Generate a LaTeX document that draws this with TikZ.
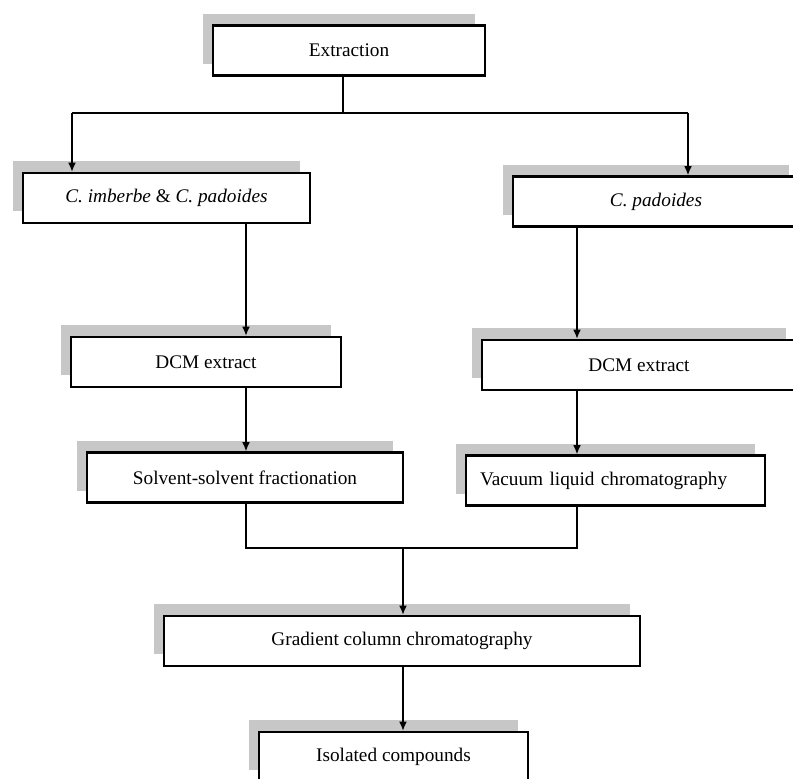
\documentclass[tikz,border=0pt]{standalone}
\usepackage{fontspec}
\setmainfont{Liberation Serif}
\usetikzlibrary{shadows,arrows.meta}

\tikzset{
  stagebox/.style={draw, line width=1.8pt, fill=white, inner sep=0pt,
    minimum height=50*0.025cm, font=\fontsize{13.7}{16}\selectfont,
    general shadow={shadow xshift=-0.25cm, shadow yshift=0.29cm, fill=black!22}},
  link/.style={line width=0.9pt},
  arr/.style={link, -{Latex[length=6.5pt,width=5.5pt]}}
}

\begin{document}
\begin{tikzpicture}[x=0.025cm, y=-0.025cm]
        \fill [white] (0, 0) rectangle (793, 778);
        \useasboundingbox (0, 0) rectangle (793, 778);
        \clip (0, 0) rectangle (793, 778);

        % boxes
        \node [stagebox, minimum width=272*0.025cm] (extr) at (349, 50.5) {Extraction};
        \node [stagebox, minimum width=287*0.025cm] (imbe) at (166.5, 198) {\textit{C. imberbe} \& \textit{C. padoides}};
        \node [stagebox, minimum width=286*0.025cm] (pado) at (656, 201.5) {\textit{C. padoides}};
        \node [stagebox, minimum width=270*0.025cm] (dcml) at (206, 362) {DCM extract};
        \node [stagebox, minimum width=314*0.025cm] (dcmr) at (639, 365) {DCM extract};
        \node [stagebox, minimum width=316*0.025cm] (solv) at (245, 477.5) {Solvent-solvent fractionation};
        \node [stagebox, text width=271*0.025cm, inner xsep=14*0.025cm, align=left] (vlc) at (615.5, 480.5) {Vacuum liquid chromatography};
        \node [stagebox, minimum width=476*0.025cm] (grad) at (402, 641) {Gradient column chromatography};
        \node [stagebox, minimum width=269*0.025cm] (iso) at (393.5, 757) {Isolated compounds};

        % connectors
        \coordinate (split) at (343, 113);
        \coordinate (lftdrop) at (72, 113);
        \coordinate (rgtdrop) at (688, 113);
        \coordinate (lcol) at (246, 0);
        \coordinate (rcol) at (577, 0);
        \coordinate (join) at (403, 548);

        \draw [link] (extr.south -| split) -- (split);
        \draw [link] (lftdrop) -- (rgtdrop);
        \draw [arr] (lftdrop) -- (lftdrop |- imbe.north);
        \draw [arr] (rgtdrop) -- (rgtdrop |- pado.north);

        \draw [arr] (imbe.south -| lcol) -- (dcml.north -| lcol);
        \draw [arr] (pado.south -| rcol) -- (dcmr.north -| rcol);
        \draw [arr] (dcml.south -| lcol) -- (solv.north -| lcol);
        \draw [arr] (dcmr.south -| rcol) -- (vlc.north -| rcol);

        \draw [link] (solv.south -| lcol) |- (join) -| (vlc.south -| rcol);
        \draw [arr] (join) -- (join |- grad.north);
        \draw [arr] (grad.south -| join) -- (iso.north -| join);
    \end{tikzpicture}
\end{document}
